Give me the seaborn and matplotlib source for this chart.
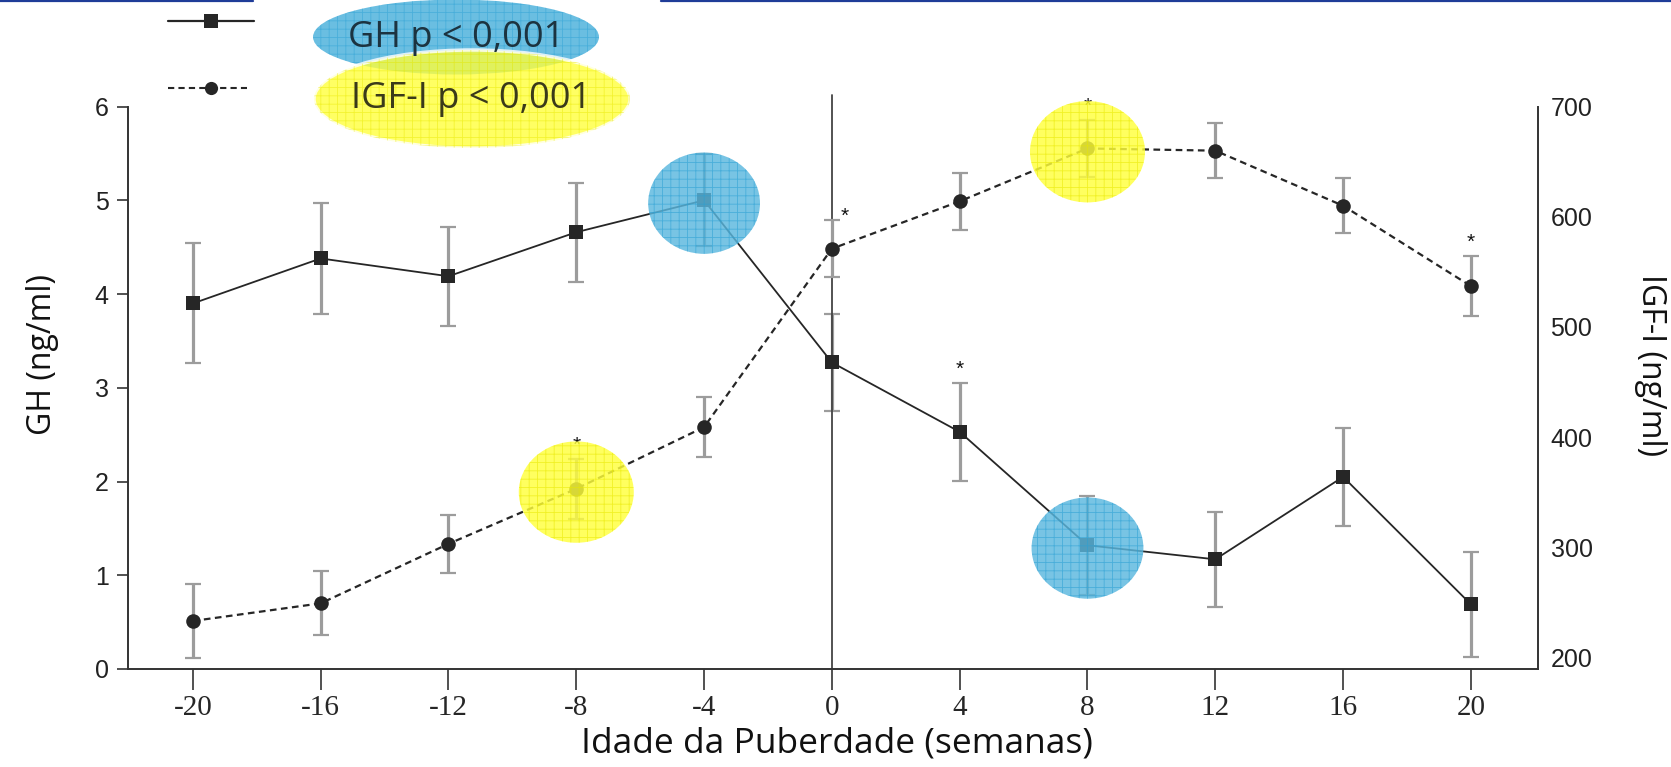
import matplotlib
matplotlib.use("Agg")
import matplotlib.pyplot as plt
from matplotlib.patches import Ellipse
from matplotlib.lines import Line2D
import seaborn as sns

# ---------------- data ----------------
weeks = [-20, -16, -12, -8, -4, 0, 4, 8, 12, 16, 20]
gh = [3.90, 4.38, 4.19, 4.66, 5.00, 3.27, 2.53, 1.32, 1.17, 2.05, 0.69]
gh_err = [0.64, 0.59, 0.53, 0.53, 0.49, 0.52, 0.52, 0.53, 0.51, 0.52, 0.56]
igf = [233, 249, 303, 353, 409, 571, 614, 662, 660, 610, 537]
igf_err = [34, 29, 26, 27, 27, 26, 26, 26, 25, 25, 27]
gh_star_weeks = [4]
igf_star_weeks = [-8, 0, 8, 20]
gh_highlight_weeks = [-4, 8]
igf_highlight_weeks = [-8, 8]
xticks = [-20, -16, -12, -8, -4, 0, 4, 8, 12, 16, 20]
gh_ticks = [0, 1, 2, 3, 4, 5, 6]
igf_ticks = [200, 300, 400, 500, 600, 700]
x_label = "Idade da Puberdade (semanas)"
gh_label = "GH (ng/ml)"
igf_label = "IGF-I (ng/ml)"
gh_legend = "GH p < 0,001"
igf_legend = "IGF-I p < 0,001"

# ---------------- style ----------------
sns.set_style("ticks")
plt.rcParams["font.family"] = ["Liberation Sans", "DejaVu Sans"]
plt.rcParams["hatch.linewidth"] = 0.6

W, H = 1671, 767
fig = plt.figure(figsize=(W / 100, H / 100), dpi=100)
ax = fig.add_axes([128 / W, 98 / H, (1538 - 128) / W, (669 - 106.6) / H])
ax2 = ax.twinx()

ax.set_xlim(-22.03, 22.1)
ax.set_ylim(0, 6)
ax2.set_ylim(189.4, 700)

spine_c = "#333333"
err_c = "#9c9c9c"
line_c = "#262626"

# error bars
ax.errorbar(weeks, gh, yerr=gh_err, fmt="none", ecolor=err_c, elinewidth=2.3,
            capsize=6, capthick=1.6, zorder=1)
ax2.errorbar(weeks, igf, yerr=igf_err, fmt="none", ecolor=err_c, elinewidth=2.3,
             capsize=6, capthick=1.6, zorder=1)

# series
sns.lineplot(x=weeks, y=gh, ax=ax, color=line_c, marker="s", markersize=10.5,
             markeredgewidth=0, linewidth=1.3, zorder=3)
sns.lineplot(x=weeks, y=igf, ax=ax2, color=line_c, marker="o", markersize=10.5,
             markeredgewidth=0, linewidth=1.6, linestyle=(0, (3, 2)), zorder=3)

# vertical line at 0
ax.axvline(0, ymin=0, ymax=1 + 12 / 562, color="#444444", lw=1.3, clip_on=False, zorder=2)

# significance stars
for wk in gh_star_weeks:
    i = weeks.index(wk)
    ax.annotate("*", (wk, gh[i] + gh_err[i]), xytext=(0, 3), textcoords="offset points",
                ha="center", va="bottom", fontsize=15, color="#111111")
for wk in igf_star_weeks:
    i = weeks.index(wk)
    off = (9, -4) if wk == 0 else (0, 3)
    ax2.annotate("*", (wk, igf[i] + igf_err[i]), xytext=off, textcoords="offset points",
                 ha="center", va="bottom", fontsize=15, color="#111111",
                 annotation_clip=False)

# highlight ellipses
blue_fc = "#5ab7de"
blue_hc = "#2aa0d4"
yel_fc = "#ffff3c"
yel_hc = "#e8e800"
for wk in gh_highlight_weeks:
    i = weeks.index(wk)
    e = Ellipse((wk, gh[i] - 0.03), 3.5, 1.08, transform=ax.transData, facecolor=blue_fc,
                edgecolor="none", alpha=0.82, zorder=5, clip_on=False)
    ax2.add_artist(e)
    eh = Ellipse((wk, gh[i] - 0.03), 3.5, 1.08, transform=ax.transData, facecolor="none",
                 edgecolor=blue_hc, hatch="++", lw=0, alpha=0.6, zorder=5, clip_on=False)
    ax2.add_artist(eh)
for wk in igf_highlight_weeks:
    i = weeks.index(wk)
    e = Ellipse((wk, igf[i] - 3), 3.6, 92, transform=ax2.transData, facecolor=yel_fc,
                edgecolor="none", alpha=0.82, zorder=5, clip_on=False)
    ax2.add_artist(e)
    eh = Ellipse((wk, igf[i] - 3), 3.6, 92, transform=ax2.transData, facecolor="none",
                 edgecolor=yel_hc, hatch="++", lw=0, alpha=0.6, zorder=5, clip_on=False)
    ax2.add_artist(eh)

# spines
sns.despine(ax=ax, top=True, right=True)
sns.despine(ax=ax2, top=True, left=True, bottom=True, right=False)
for sp in ("left", "bottom"):
    ax.spines[sp].set_color(spine_c)
    ax.spines[sp].set_linewidth(1.4)
ax2.spines["right"].set_color(spine_c)
ax2.spines["right"].set_linewidth(1.4)

# ticks
ax.set_xticks(xticks)
ax.set_xticklabels([str(t) for t in xticks], fontfamily="Liberation Serif", fontsize=21)
ax.tick_params(axis="x", direction="out", length=15, width=1.2, color=spine_c, pad=4)
ax.set_yticks(gh_ticks)
ax.set_yticklabels([str(t) for t in gh_ticks], fontsize=18, color="#222222")
ax.tick_params(axis="y", direction="out", length=8, width=1.2, color=spine_c, pad=6)
ax2.set_yticks(igf_ticks)
ax2.set_yticklabels([str(t) for t in igf_ticks], fontsize=18, color="#222222")
ax2.tick_params(axis="y", direction="out", length=7, width=1.2, color="#555555", pad=2)

# labels
lab_font = dict(fontfamily="Open Sans", color="#111111")
ax.set_xlabel(x_label, fontsize=25.5, **lab_font)
ax.xaxis.set_label_coords(0.503, -0.103)
ax.set_ylabel(gh_label, fontsize=23, **lab_font)
ax.yaxis.set_label_coords(-0.049, 0.56)
ax2.set_ylabel(igf_label, rotation=270, va="center", fontsize=23, **lab_font)
ax2.yaxis.set_label_coords(1.08, 0.54)

# ---------------- legend area (figure coords) ----------------
def fx(px):
    return px / W

def fy(py):
    return 1 - py / H

fig.add_artist(Line2D([fx(0), fx(253)], [fy(1.2), fy(1.2)], color="#1f3c98", lw=1.6))
fig.add_artist(Line2D([fx(661), fx(W)], [fy(1.2), fy(1.2)], color="#1f3c98", lw=1.6))

fig.add_artist(Line2D([fx(168), fx(211), fx(254)], [fy(21)] * 3, color=line_c, lw=1.6,
                      marker="s", markersize=10, markevery=[1], markeredgewidth=0))
fig.add_artist(Line2D([fx(168), fx(211), fx(247)], [fy(88)] * 3, color=line_c, lw=1.5,
                      linestyle=(0, (3, 2)), marker="o", markersize=9.5, markevery=[1],
                      markeredgewidth=0))

be = Ellipse((fx(456), fy(37)), fx(286), 75 / H, transform=fig.transFigure,
             facecolor=blue_fc, edgecolor="none", alpha=0.9)
fig.add_artist(be)
fig.add_artist(Ellipse((fx(456), fy(37)), fx(286), 75 / H, transform=fig.transFigure,
                       facecolor="none", edgecolor=blue_hc, hatch="++", lw=0, alpha=0.5))
fig.text(fx(456), fy(38), gh_legend, ha="center", va="center", fontfamily="Open Sans",
         fontsize=26, color="#1c3340")
ye = Ellipse((fx(472), fy(99)), fx(316), 98 / H, transform=fig.transFigure,
             facecolor=yel_fc, edgecolor="white", lw=2.5, alpha=0.8)
fig.add_artist(ye)
fig.add_artist(Ellipse((fx(472), fy(99)), fx(316), 98 / H, transform=fig.transFigure,
                       facecolor="none", edgecolor=yel_hc, hatch="++", lw=0, alpha=0.5))
fig.text(fx(471), fy(99), igf_legend, ha="center", va="center", fontfamily="Open Sans",
         fontsize=26, color="#3a3a1a")

fig.savefig("out.png", dpi=100)
